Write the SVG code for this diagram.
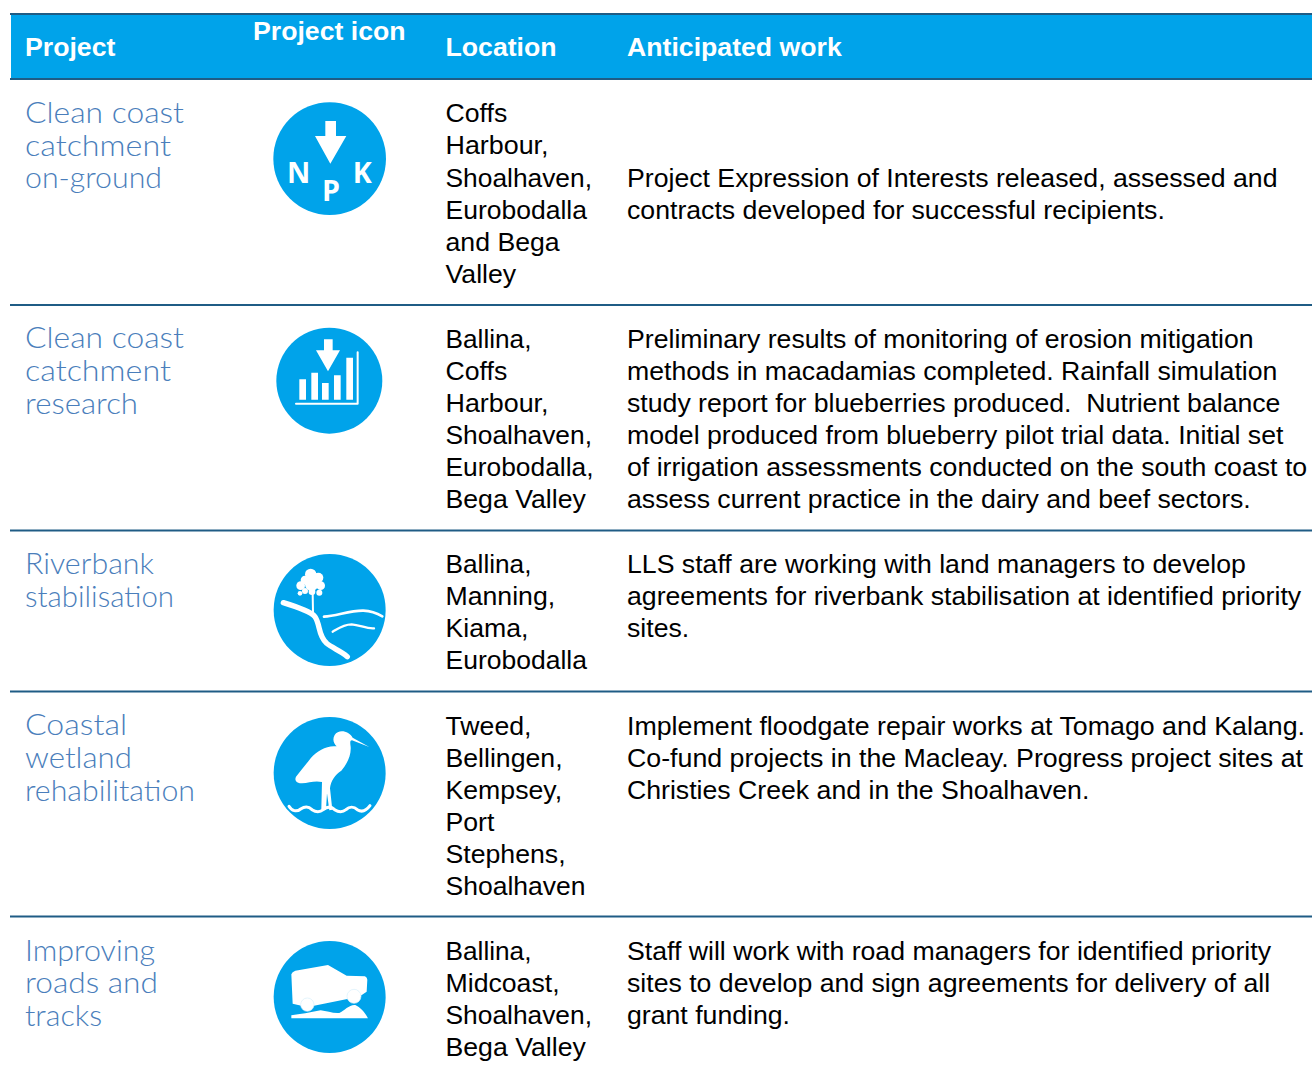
<svg xmlns="http://www.w3.org/2000/svg" width="1312" height="1071" viewBox="0 0 1312 1071">
<style>
text{font-family:"Liberation Sans",Arial,sans-serif}
.h{font-size:26.67px;font-weight:700;fill:#fff}
.t{font-size:26.67px;fill:#000;white-space:pre}
.l{font-size:26.67px;fill:#000}
.p{font-family:"Lato","Open Sans",sans-serif;font-size:29px;font-weight:300;fill:#4a7ebb}
.r{stroke:#1f5c85;stroke-width:2;fill:none}
.c{fill:#00a3ea}
.w{fill:#fff}
.s{fill:none;stroke:#fff;stroke-linecap:round;stroke-linejoin:round}
.k{font-size:86px;font-weight:700;fill:#fff;font-family:"Open Sans","Liberation Sans",sans-serif;text-anchor:middle}
.o{fill:#fff;stroke:#d6effb;stroke-width:2}
</style>
<rect width="1312" height="1071" fill="#fff"/>
<g id="header">
<rect x="11" y="14" width="1301" height="65" fill="#00a3ea"/>
<path class="r" d="M10 14H1312M10 79H1312"/>
<text class="h" x="25" y="56">Project</text>
<text class="h" x="253" y="40">Project icon</text>
<text class="h" x="445.500" y="56">Location</text>
<text class="h" x="627" y="56">Anticipated work</text>
</g>
<g id="row-separators"><path class="r" d="M10 305H1312M10 530.500H1312M10 691.500H1312M10 916.500H1312"/></g>
<g id="row1">
<text class="p" x="25" y="123" textLength="159" lengthAdjust="spacingAndGlyphs">Clean coast</text><text class="p" x="25" y="156" textLength="146" lengthAdjust="spacingAndGlyphs">catchment</text><text class="p" x="25" y="188" textLength="137" lengthAdjust="spacingAndGlyphs">on-ground</text>
<g id="icon1" transform="translate(250 90) scale(.3333)">
<circle class="c" cx="239" cy="206" r="169"/>
<path class="w" d="M226 93H258V138H289L241 221L195 138H226Z"/>
<text class="k" x="146" y="280">N</text><text class="k" x="243" y="332">P</text><text class="k" x="337" y="280">K</text>
</g>
<text class="l" x="445.500" y="122">Coffs</text><text class="l" x="445.500" y="154" textLength="103" lengthAdjust="spacingAndGlyphs">Harbour,</text><text class="l" x="445.500" y="187" textLength="146.500" lengthAdjust="spacingAndGlyphs">Shoalhaven,</text><text class="l" x="445.500" y="219" textLength="141.500" lengthAdjust="spacingAndGlyphs">Eurobodalla</text><text class="l" x="445.500" y="251">and Bega</text><text class="l" x="445.500" y="283">Valley</text>
<text class="t" x="627" y="187">Project Expression of Interests released, assessed and</text><text class="t" x="627" y="219">contracts developed for successful recipients.</text>
</g>
<g id="row2">
<text class="p" x="25" y="348" textLength="159" lengthAdjust="spacingAndGlyphs">Clean coast</text><text class="p" x="25" y="381" textLength="146" lengthAdjust="spacingAndGlyphs">catchment</text><text class="p" x="25" y="414" textLength="113" lengthAdjust="spacingAndGlyphs">research</text>
<g id="icon2" transform="translate(250 315) scale(.3333)">
<circle class="c" cx="238" cy="197" r="159"/>
<path class="w" d="M222 73H248V106H270L234 169L198 106H222Z"/>
<path class="w" d="M148 193H168V254H148ZM184 173H204V254H184ZM216 204H236V254H216ZM252 181H272V254H252ZM289 128H309V254H289Z"/>
<path class="s" stroke-width="6" d="M138 266H323V112" stroke-linecap="butt"/>
</g>
<text class="l" x="445.500" y="348" textLength="86" lengthAdjust="spacingAndGlyphs">Ballina,</text><text class="l" x="445.500" y="380">Coffs</text><text class="l" x="445.500" y="412" textLength="103" lengthAdjust="spacingAndGlyphs">Harbour,</text><text class="l" x="445.500" y="444" textLength="146.500" lengthAdjust="spacingAndGlyphs">Shoalhaven,</text><text class="l" x="445.500" y="476" textLength="148" lengthAdjust="spacingAndGlyphs">Eurobodalla,</text><text class="l" x="445.500" y="508">Bega Valley</text>
<text class="t" x="627" y="348">Preliminary results of monitoring of erosion mitigation</text><text class="t" x="627" y="380">methods in macadamias completed. Rainfall simulation</text><text class="t" x="627" y="412">study report for blueberries produced.  Nutrient balance</text><text class="t" x="627" y="444">model produced from blueberry pilot trial data. Initial set</text><text class="t" x="627" y="476">of irrigation assessments conducted on the south coast to</text><text class="t" x="627" y="508">assess current practice in the dairy and beef sectors.</text>
</g>
<g id="row3">
<text class="p" x="25" y="574" textLength="129" lengthAdjust="spacingAndGlyphs">Riverbank</text><text class="p" x="25" y="607" textLength="149" lengthAdjust="spacingAndGlyphs">stabilisation</text>
<g id="icon3" transform="translate(250 545) scale(.3333)">
<circle class="c" cx="239" cy="195" r="168"/>
<path class="s" stroke-width="6" d="M188 145L189 200"/>
<g class="w"><circle cx="182" cy="88" r="17"/><circle cx="205" cy="98" r="15"/><circle cx="165" cy="105" r="13"/><circle cx="152" cy="122" r="13"/><circle cx="212" cy="122" r="13"/><circle cx="185" cy="118" r="20"/><circle cx="165" cy="138" r="9"/><circle cx="150" cy="145" r="7"/><circle cx="208" cy="143" r="9"/><circle cx="186" cy="140" r="10"/></g>
<path class="s" stroke-width="16" stroke-linecap="butt" d="M100 173C140 185 180 198 195 215C212 240 203 270 230 295C248 310 270 316 292 335"/>
<path class="s" stroke-width="8" d="M222 215C260 213 300 196 340 197C365 198 385 207 397 214"/>
<path class="s" stroke-width="7" d="M248 260C262 252 280 238 305 238C330 240 350 252 372 250"/>
</g>
<text class="l" x="445.500" y="573" textLength="86" lengthAdjust="spacingAndGlyphs">Ballina,</text><text class="l" x="445.500" y="605">Manning,</text><text class="l" x="445.500" y="637">Kiama,</text><text class="l" x="445.500" y="669" textLength="141.500" lengthAdjust="spacingAndGlyphs">Eurobodalla</text>
<text class="t" x="627" y="573">LLS staff are working with land managers to develop</text><text class="t" x="627" y="605">agreements for riverbank stabilisation at identified priority</text><text class="t" x="627" y="637">sites.</text>
</g>
<g id="row4">
<text class="p" x="25" y="735" textLength="102" lengthAdjust="spacingAndGlyphs">Coastal</text><text class="p" x="25" y="768" textLength="107" lengthAdjust="spacingAndGlyphs">wetland</text><text class="p" x="25" y="801" textLength="170" lengthAdjust="spacingAndGlyphs">rehabilitation</text>
<g id="icon4" transform="translate(250 705) scale(.3333)">
<circle class="c" cx="239" cy="204" r="168"/>
<path class="w" d="M358 126L308 98C298 78 266 70 254 90C246 104 252 116 260 124C232 120 202 136 182 160C166 180 152 198 138 215C132 228 142 236 156 235C176 233 196 226 216 231L214 312L228 314L231 265L238 316L247 314L240 250C242 228 256 208 274 197C292 176 304 150 302 125C300 112 300 106 306 106Z"/>
<path class="s" stroke-width="9" d="M117 304C125 318 140 322 152 312C164 304 176 304 186 314C198 322 210 322 220 314C232 304 244 304 254 314C266 322 278 322 288 314C298 304 312 304 322 314C334 322 348 318 360 302"/>
</g>
<text class="l" x="445.500" y="735">Tweed,</text><text class="l" x="445.500" y="767">Bellingen,</text><text class="l" x="445.500" y="799">Kempsey,</text><text class="l" x="445.500" y="831">Port</text><text class="l" x="445.500" y="863">Stephens,</text><text class="l" x="445.500" y="895" textLength="140" lengthAdjust="spacingAndGlyphs">Shoalhaven</text>
<text class="t" x="627" y="735" textLength="678" lengthAdjust="spacingAndGlyphs">Implement floodgate repair works at Tomago and Kalang.</text><text class="t" x="627" y="767" textLength="676" lengthAdjust="spacingAndGlyphs">Co-fund projects in the Macleay. Progress project sites at</text><text class="t" x="627" y="799">Christies Creek and in the Shoalhaven.</text>
</g>
<g id="row5">
<text class="p" x="25" y="961" textLength="130" lengthAdjust="spacingAndGlyphs">Improving</text><text class="p" x="25" y="993" textLength="133" lengthAdjust="spacingAndGlyphs">roads and</text><text class="p" x="25" y="1026" textLength="77" lengthAdjust="spacingAndGlyphs">tracks</text>
<g id="icon5" transform="translate(250 935) scale(.3333)">
<circle class="c" cx="239" cy="186" r="168"/>
<path class="w" d="M136 107L234 90L290 122L345 124Q352 128 352 134L350 170L332 182L292 192L192 212L154 212L128 206L124 118Q126 110 136 107Z"/>
<circle class="o" cx="172" cy="209" r="20"/><circle class="o" cx="312" cy="184" r="21"/>
<path class="w" d="M124 241C150 238 180 232 212 226C230 228 250 236 268 234C284 226 298 208 316 210C330 216 345 232 354 250H124Z"/>
</g>
<text class="l" x="445.500" y="960" textLength="86" lengthAdjust="spacingAndGlyphs">Ballina,</text><text class="l" x="445.500" y="992">Midcoast,</text><text class="l" x="445.500" y="1024" textLength="146.500" lengthAdjust="spacingAndGlyphs">Shoalhaven,</text><text class="l" x="445.500" y="1056">Bega Valley</text>
<text class="t" x="627" y="960">Staff will work with road managers for identified priority</text><text class="t" x="627" y="992">sites to develop and sign agreements for delivery of all</text><text class="t" x="627" y="1024">grant funding.</text>
</g>
</svg>
